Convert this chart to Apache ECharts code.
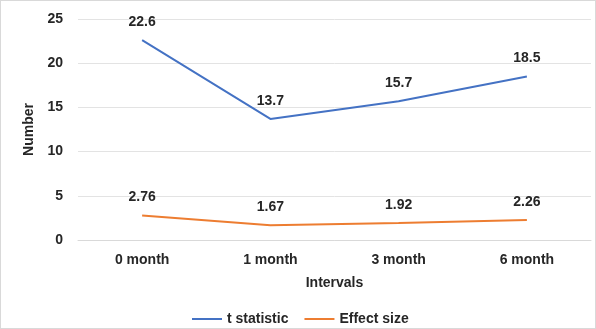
<!DOCTYPE html>
<html>
<head>
<meta charset="utf-8">
<script src="https://cdn.jsdelivr.net/npm/echarts@6/dist/echarts.min.js"></script>
<style>
  html, body { margin: 0; padding: 0; background: #fff; }
  #chart { width: 594px; height: 327px; border: 1px solid #d9d9d9; }
</style>
</head>
<body>
<div id="chart"></div>
<script>
const categories = ["0 month", "1 month", "3 month", "6 month"];
const tStatistic = [22.6, 13.7, 15.7, 18.5];
const effectSize = [2.76, 1.67, 1.92, 2.26];
const effectLabels = ["2.76", "1.67", "1.92", "2.26"];

const chart = echarts.init(document.getElementById("chart"));
const font = "Liberation Sans, Arial, sans-serif";
const txt = "#262626";

const option = {
  animation: false,
  textStyle: { fontFamily: font },
  grid: { left: 77, right: 4, top: 18, bottom: 88 },
  legend: {
    bottom: -3,
    left: 186,
    itemWidth: 30,
    itemHeight: 2,
    itemGap: 16,
    icon: "rect",
    textStyle: { fontSize: 14, fontWeight: "bold", color: txt, fontFamily: font },
    data: ["t statistic", "Effect size"]
  },
  xAxis: {
    type: "category",
    data: categories,
    name: "Intervals",
    nameLocation: "middle",
    nameGap: 36,
    nameTextStyle: { fontSize: 14, fontWeight: "bold", color: txt },
    axisLine: { show: true, lineStyle: { color: "#d9d9d9" } },
    axisTick: { show: false },
    axisLabel: { fontSize: 14, fontWeight: "bold", color: txt, margin: 13 }
  },
  yAxis: {
    type: "value",
    min: 0,
    max: 25,
    interval: 5,
    name: "Number",
    nameLocation: "middle",
    nameGap: 40,
    nameRotate: 90,
    nameTextStyle: { fontSize: 14, fontWeight: "bold", color: txt },
    axisLine: { show: false },
    axisTick: { show: false },
    axisLabel: { fontSize: 14, fontWeight: "bold", color: txt, margin: 15 },
    splitLine: { lineStyle: { color: "#e3e3e3" } }
  },
  series: [
    {
      name: "t statistic",
      type: "line",
      data: tStatistic,
      symbol: "circle",
      symbolSize: 0,
      lineStyle: { color: "#4472C4", width: 2 },
      itemStyle: { color: "#4472C4" },
      label: { show: true, position: "top", distance: 11, fontSize: 14, fontWeight: "bold", color: txt }
    },
    {
      name: "Effect size",
      type: "line",
      data: effectSize,
      symbol: "circle",
      symbolSize: 0,
      lineStyle: { color: "#ED7D31", width: 2 },
      itemStyle: { color: "#ED7D31" },
      label: {
        show: true, position: "top", distance: 11, fontSize: 14, fontWeight: "bold", color: txt,
        formatter: (p) => effectLabels[p.dataIndex]
      }
    }
  ]
};
chart.setOption(option);
</script>
</body>
</html>
